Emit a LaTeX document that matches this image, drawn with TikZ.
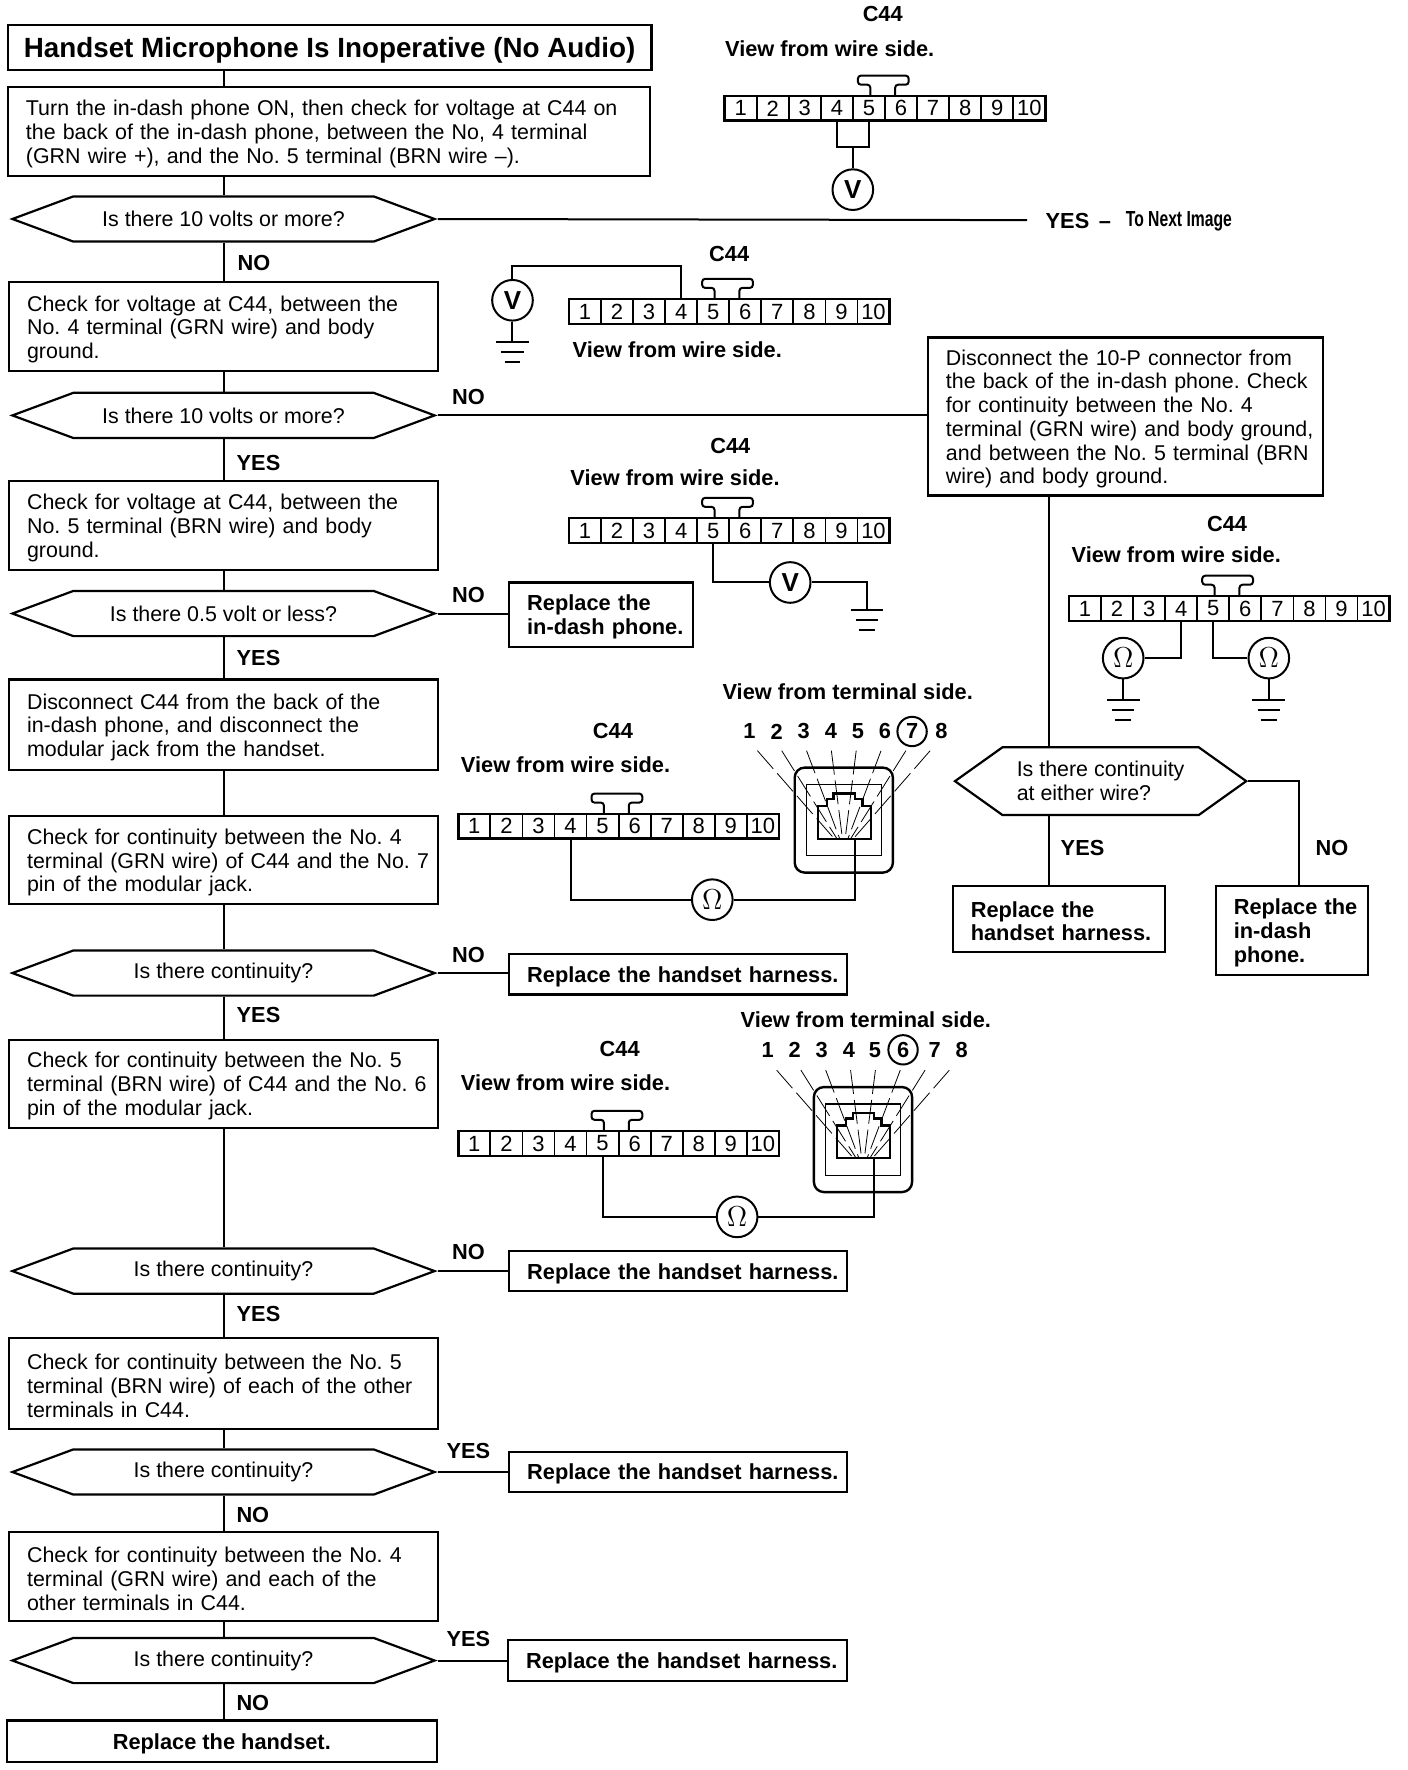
\documentclass[tikz,border=0pt]{standalone}
\usepackage{fontspec}
\setmainfont{Liberation Sans}
\usetikzlibrary{shapes.symbols}

\newcommand{\un}{0.5645}

\tikzset{
  flow/.style={line width=1pt},
  wire/.style={line width=1pt},
  boxsize/.style 2 args={text width=#1*\un pt, inner xsep=0pt, inner ysep=0pt, minimum height=#2*\un pt, execute at begin node={\leftskip=9.03pt\leavevmode\rule{0pt}{10.2pt}}},
  bodytext/.style={font=\fontsize{10.7}{11.85}\selectfont\frenchspacing},
  boldtext/.style={font=\fontsize{10.9}{11.85}\selectfont\bfseries\frenchspacing},
  procbox/.style={draw, line width=1.1pt, align=left, bodytext},
  fixbox/.style={draw, line width=1.1pt, align=left, boldtext},
  decbox/.style={draw, line width=1.1pt, signal, signal to=west and east, signal pointer angle=40.7, inner sep=0pt, minimum height=40*\un pt, minimum width=374*\un pt, align=center, bodytext},
  tag/.style={boldtext, inner sep=0pt},
  termcell/.style={draw, line width=0.9pt, minimum width=28.4*\un pt, minimum height=22*\un pt, inner sep=0pt, font=\fontsize{11}{12}\selectfont},
  meter/.style={draw, circle, line width=1pt, fill=white, minimum size=36*\un pt, inner sep=0pt, font=\fontsize{13}{14}\selectfont\bfseries},
  ohmmeter/.style={meter, font=\fontsize{14}{15}\selectfont},
  ray/.style={line width=0.4pt, dash pattern=on 12pt off 3pt},
  groundsym/.pic={
    \draw[wire] (-14.5,0) -- (14.5,0);
    \draw[wire] (-10,9) -- (10,9);
    \draw[wire] (-7,18) -- (7,18);
  },
}

% ten terminal connector: name, left, top
\newcommand{\tenpin}[3]{
  \foreach \n in {1,...,10} {
    \node[termcell] (#1\n) at ({#2+(\n-0.5)*28.4},{#3+11}) {\n};
  }
  \draw[line width=1.3pt] (#2,#3) rectangle (#2+284,#3+22);
  \draw[wire, rounded corners=1.5pt] (#2+129,#3) -- (#2+129,#3-10) -- (#2+118,#3-10) -- (#2+118,#3-18) -- (#2+163,#3-18) -- (#2+163,#3-10) -- (#2+151,#3-10) -- (#2+151,#3);
}

% modular jack: name, centre x, top
\newcommand{\modjack}[3]{
  \foreach \t in {-76.5,-55,-33,-11,11,33,55,76.5} {
    \draw[ray] ({#2+\t},#3-15) -- ({#2+0.11*\t},#3+63);
  }
  \draw[line width=1.2pt, rounded corners=5pt] (#2-43.5,#3) rectangle (#2+43.5,#3+93);
  \draw[line width=0.6pt] (#2-33,#3+15) rectangle (#2+33.5,#3+78);
  \draw[line width=1.2pt] (#2-23,#3+63) -- (#2-23,#3+34) -- (#2-15,#3+34) -- (#2-15,#3+28) -- (#2-9,#3+28) -- (#2-9,#3+23) -- (#2+10,#3+23) -- (#2+10,#3+28) -- (#2+16.5,#3+28) -- (#2+16.5,#3+34) -- (#2+24,#3+34) -- (#2+24,#3+63) -- cycle;
  \coordinate (#1) at (#2+9.5,#3+63);
}

\begin{document}
\begin{tikzpicture}[x=\un pt, y=-\un pt]
\useasboundingbox (0,0) rectangle (1247,1568);

%left column
\node[draw, line width=1.2pt, minimum width=570*\un pt, minimum height=40*\un pt, inner sep=0pt, text depth=0pt, font=\fontsize{13.9}{15}\selectfont\bfseries] (title) at (292,42) {Handset Microphone Is Inoperative (No Audio)};
\node[procbox, boxsize={569}{79}] (turnon) at (291.5,116.5) {Turn the in-dash phone ON, then check for voltage at C44 on\\the back of the in-dash phone, between the No, 4 terminal\\(GRN wire +), and the No. 5 terminal (BRN wire --).};
\node[decbox] (dten) at (198,194) {Is there 10 volts or more?};
\node[procbox, boxsize={380}{79}] (chkfour) at (198,289.5) {Check for voltage at C44, between the\\No. 4 terminal (GRN wire) and body\\ground.};
\node[decbox] (dtenb) at (198,368) {Is there 10 volts or more?};
\node[procbox, boxsize={380}{79}] (chkfive) at (198,465.5) {Check for voltage at C44, between the\\No. 5 terminal (BRN wire) and body\\ground.};
\node[decbox] (dhalf) at (198,543.5) {Is there 0.5 volt or less?};
\node[procbox, boxsize={380}{80}] (unplug) at (198,642) {Disconnect C44 from the back of the\\in-dash phone, and disconnect the\\modular jack from the handset.};
\node[procbox, boxsize={380}{78}] (contfour) at (198,762) {Check for continuity between the No. 4\\terminal (GRN wire) of C44 and the No. 7\\pin of the modular jack.};
\node[decbox] (dconta) at (198,862) {Is there continuity?};
\node[procbox, boxsize={380}{78}] (contfive) at (198,960) {Check for continuity between the No. 5\\terminal (BRN wire) of C44 and the No. 6\\pin of the modular jack.};
\node[decbox] (dcontb) at (198,1126) {Is there continuity?};
\node[procbox, boxsize={380}{81}] (otherfive) at (198,1225.5) {Check for continuity between the No. 5\\terminal (BRN wire) of each of the other\\terminals in C44.};
\node[decbox] (dcontc) at (198,1304) {Is there continuity?};
\node[procbox, boxsize={380}{79}] (otherfour) at (198,1396.5) {Check for continuity between the No. 4\\terminal (GRN wire) and each of the\\other terminals in C44.};
\node[decbox] (dcontd) at (198,1471) {Is there continuity?};
\node[draw, line width=1.2pt, minimum width=381*\un pt, minimum height=37*\un pt, inner sep=0pt, text depth=0pt, boldtext] (handset) at (196.5,1542.5) {Replace the handset.};

%replace boxes
\node[fixbox, boxsize={163}{57}] (fixphone) at (532.5,544.5) {Replace the\\in-dash phone.};
\node[fixbox, boxsize={299}{36}] (fixa) at (600.5,863) {Replace the handset harness.};
\node[fixbox, boxsize={299}{36}] (fixb) at (600.5,1126) {Replace the handset harness.};
\node[fixbox, boxsize={299}{36}] (fixc) at (600.5,1304) {Replace the handset harness.};
\node[fixbox, boxsize={300}{36}] (fixd) at (600,1471) {Replace the handset harness.};

%right column
\node[procbox, boxsize={350}{140}] (tenp) at (997,369) {Disconnect the 10-P connector from\\the back of the in-dash phone. Check\\for continuity between the No. 4\\terminal (GRN wire) and body ground,\\and between the No. 5 terminal (BRN\\wire) and body ground.};
\node[decbox, signal pointer angle=71, minimum width=258*\un pt, minimum height=60*\un pt, align=left] (deither) at (975,692) {Is there continuity\\at either wire?};
\node[fixbox, boxsize={188}{58}] (fixe) at (938,814) {Replace the\\handset harness.};
\node[fixbox, boxsize={135}{79}] (fixf) at (1144.5,824.5) {Replace the\\in-dash\\phone.};

%flow lines
\draw[flow] (dten.north |- title.south) -- (dten.north |- turnon.north);
\draw[flow] (dten.north |- turnon.south) -- (dten.north);
\draw[flow] (dten.south) -- (chkfour.north);
\draw[flow] (chkfour.south) -- (dtenb.north);
\draw[flow] (dtenb.south) -- (chkfive.north);
\draw[flow] (chkfive.south) -- (dhalf.north);
\draw[flow] (dhalf.south) -- (unplug.north);
\draw[flow] (unplug.south) -- (contfour.north);
\draw[flow] (contfour.south) -- (dconta.north);
\draw[flow] (dconta.south) -- (contfive.north);
\draw[flow] (contfive.south) -- (dcontb.north);
\draw[flow] (dcontb.south) -- (otherfive.north);
\draw[flow] (otherfive.south) -- (dcontc.north);
\draw[flow] (dcontc.south) -- (otherfour.north);
\draw[flow] (otherfour.south) -- (dcontd.north);
\draw[flow] (dcontd.south) -- (dcontd.south |- handset.north);
\coordinate (yesend) at (910,195);
\draw[flow] (dten.east) -- (yesend);
\draw[flow] (dtenb.east) -- (dtenb.east -| tenp.west);
\draw[flow] (dhalf.east) -- (dhalf.east -| fixphone.west);
\draw[flow] (dconta.east) -- (dconta.east -| fixa.west);
\draw[flow] (dcontb.east) -- (fixb.west);
\draw[flow] (dcontc.east) -- (fixc.west);
\draw[flow] (dcontd.east) -- (fixd.west);
\coordinate (eithertop) at (929,439);
\coordinate (fixfin) at (1151,785);
\draw[flow] (eithertop) -- (eithertop |- deither.north);
\draw[flow] (eithertop |- deither.south) -- (eithertop |- fixe.north);
\draw[flow] (deither.east) -| (fixfin);

%branch labels
\node[tag] (noa) at (225,233) {NO};
\node[tag] (nob) at (415,352) {NO};
\node[tag] (yesb) at (229,410) {YES};
\node[tag] (noc) at (415,527) {NO};
\node[tag] (yesc) at (229,583) {YES};
\node[tag] (nod) at (415,846) {NO};
\node[tag] (yesd) at (229,899) {YES};
\node[tag] (noe) at (415,1109) {NO};
\node[tag] (yese) at (229,1164) {YES};
\node[tag] (yesf) at (415,1285) {YES};
\node[tag] (nof) at (224,1342) {NO};
\node[tag] (yesg) at (415,1452) {YES};
\node[tag] (nog) at (224,1509) {NO};
\node[tag] (yesh) at (959,751) {YES};
\node[tag] (noh) at (1180,751) {NO};
\node[tag, anchor=west] (yestop) at (926,196) {YES \,--};
\node[tag, anchor=west] (nextimg) at (997,196) {\scalebox{0.72}[1]{To Next Image}};

%first connector
\node[tag] (ca) at (782,12) {C44};
\node[tag] (va) at (735,43) {View from wire side.};
\tenpin{cona}{642}{85}
\node[meter] (vone) at (755.5,168) {V};
\coordinate (vtap) at (755.5,130);
\draw[wire] (cona4.south) |- (vtap);
\draw[wire] (cona5.south) |- (vtap);
\draw[wire] (vtap) -- (vone.north);

%second connector
\node[tag] (cb) at (646,225) {C44};
\node[tag] (vb) at (600,310) {View from wire side.};
\tenpin{conb}{504}{265}
\node[meter] (vtwo) at (454,266) {V};
\coordinate (gtwo) at (454,303);
\draw[wire] (vtwo.north) |- (conb4.north |- 0,236) -- (conb4.north);
\draw[wire] (vtwo.south) -- (gtwo);
\pic at (gtwo) {groundsym};

%third connector
\node[tag] (cc) at (647,395) {C44};
\node[tag] (vc) at (598,423) {View from wire side.};
\tenpin{conc}{504}{459}
\node[meter] (vthree) at (700,516) {V};
\coordinate (gthree) at (768,540);
\draw[wire] (conc5.south) |- (vthree.west);
\draw[wire] (vthree.east) -| (gthree);
\pic at (gthree) {groundsym};

%fourth connector
\node[tag] (cd) at (1087,464) {C44};
\node[tag] (vd) at (1042,491) {View from wire side.};
\tenpin{cond}{947}{528}
\node[ohmmeter] (ohma) at (995,583) {$\Omega$};
\node[ohmmeter] (ohmb) at (1124,583) {$\Omega$};
\coordinate (gfoura) at (995,620);
\coordinate (gfourb) at (1124,620);
\draw[wire] (cond4.south) |- (ohma.east);
\draw[wire] (cond5.south) |- (ohmb.west);
\draw[wire] (ohma.south) -- (gfoura);
\draw[wire] (ohmb.south) -- (gfourb);
\pic at (gfoura) {groundsym};
\pic at (gfourb) {groundsym};

%fifth connector and jack
\node[tag] (ce) at (543,648) {C44};
\node[tag] (ve) at (501,677) {View from wire side.};
\node[tag] (te) at (751,613) {View from terminal side.};
\tenpin{cone}{406}{721}
\foreach \x/\n in {664/1,688/2,712/3,736/4,760/5,784/6,834/8} {
  \node[tag] (jacka\n) at (\x,648) {\n};
}
\node[tag, draw, circle, line width=1pt, minimum size=26*\un pt] (jacka7) at (808,648) {7};
\modjack{jackawire}{747.5}{680}
\node[ohmmeter] (ohmc) at (631,797) {$\Omega$};
\draw[wire] (cone4.south) |- (ohmc.west);
\draw[wire] (ohmc.east) -| (jackawire);

%sixth connector and jack
\node[tag] (cf) at (549,929) {C44};
\node[tag] (vf) at (501,959) {View from wire side.};
\node[tag] (tf) at (767,903) {View from terminal side.};
\tenpin{conf}{406}{1002}
\foreach \x/\n in {680/1,704/2,728/3,752/4,775/5,828/7,852/8} {
  \node[tag] (jackb\n) at (\x,930) {\n};
}
\node[tag, draw, circle, line width=1pt, minimum size=26*\un pt] (jackb6) at (800,930) {6};
\modjack{jackbwire}{764.5}{963}
\node[ohmmeter] (ohmd) at (653,1078) {$\Omega$};
\draw[wire] (conf5.south) |- (ohmd.west);
\draw[wire] (ohmd.east) -| (jackbwire);

\end{tikzpicture}
\end{document}
